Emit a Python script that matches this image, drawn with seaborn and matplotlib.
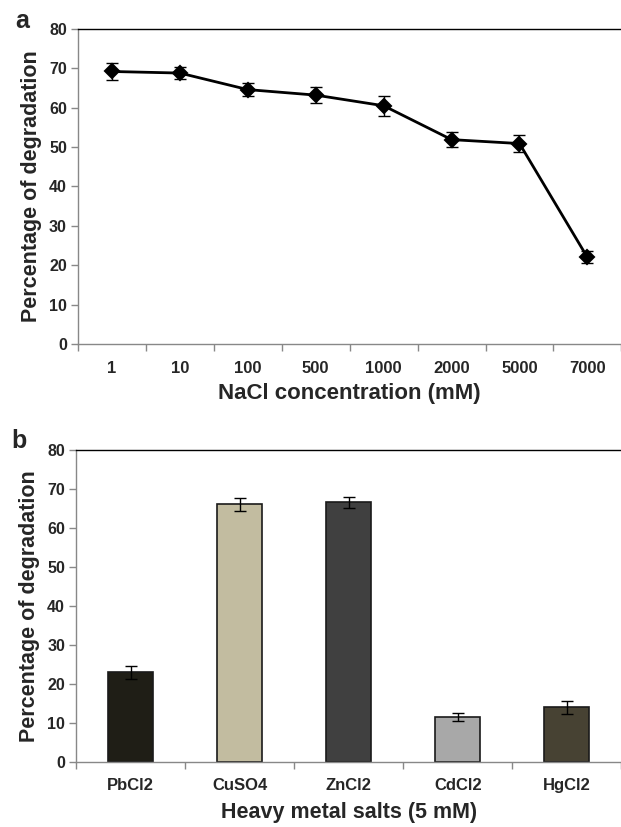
import matplotlib
matplotlib.use("Agg")
import matplotlib.pyplot as plt
import seaborn as sns
import pandas as pd
import numpy as np

sns.set_theme(style="white")
plt.rcParams['font.family'] = ['Liberation Sans', 'DejaVu Sans']

# Panel a data
nacl_labels = ["1", "10", "100", "500", "1000", "2000", "5000", "7000"]
nacl_values = [69.2, 68.8, 64.6, 63.2, 60.5, 51.9, 50.9, 22.0]
nacl_err = [2.1, 1.6, 1.7, 2.1, 2.6, 1.9, 2.2, 1.5]

# Panel b data
metal_labels = ["PbCl2", "CuSO4", "ZnCl2", "CdCl2", "HgCl2"]
metal_values = [22.9, 66.0, 66.6, 11.4, 13.9]
metal_err = [1.7, 1.7, 1.4, 1.0, 1.7]
metal_colors = ["#211f14", "#c8c09a", "#404040", "#a8a8a8", "#4a4430"]

yticks = [0, 10, 20, 30, 40, 50, 60, 70, 80]

fig = plt.figure(figsize=(6.21, 8.27), dpi=100)
axa = fig.add_axes([0.1256, 0.584, 0.875, 0.381])
axb = fig.add_axes([0.1225, 0.079, 0.878, 0.377])

def style(ax, n, labels, xlabel, xlsize, xlpad):
    ax.set_xlim(-0.5, n - 0.5)
    ax.set_ylim(0, 80)
    ax.set_yticks(yticks)
    ax.set_yticklabels([str(t) for t in yticks], fontsize=11.5, fontweight='bold')
    ax.set_xticks(np.arange(n + 1) - 0.5)
    ax.set_xticklabels([])
    ax.set_xticks(np.arange(n), minor=True)
    ax.set_xticklabels(labels, minor=True, fontsize=12, fontweight='bold')
    ax.tick_params(axis='x', which='major', length=5, width=1, color='#888888', direction='out', bottom=True)
    ax.tick_params(axis='x', which='minor', length=0, pad=12, bottom=True)
    ax.tick_params(axis='y', length=5, width=1, color='#888888', direction='out', left=True, pad=3)
    for s in ['left', 'bottom']:
        ax.spines[s].set_color('#888888')
        ax.spines[s].set_linewidth(1.0)
    ax.spines['top'].set_color('black')
    ax.spines['top'].set_linewidth(1.0)
    ax.spines['right'].set_visible(False)
    ax.set_ylabel("Percentage of degradation", fontsize=15.5, fontweight='bold', labelpad=5)
    ax.set_xlabel(xlabel, fontsize=xlsize, fontweight='bold', labelpad=xlpad)
    ax.grid(False)

# Panel a
dfa = pd.DataFrame({"conc": nacl_labels, "deg": nacl_values})
sns.pointplot(data=dfa, x="conc", y="deg", ax=axa, color="black", markers="D",
              linestyles="-", errorbar=None, markersize=7, linewidth=2)
axa.errorbar(np.arange(len(nacl_labels)), nacl_values, yerr=nacl_err, fmt='none',
             ecolor='black', elinewidth=1, capsize=4, capthick=1, zorder=5)
style(axa, len(nacl_labels), nacl_labels, "NaCl concentration (mM)", 16, 5)

# Panel b
dfb = pd.DataFrame({"salt": metal_labels, "deg": metal_values})
sns.barplot(data=dfb, x="salt", y="deg", hue="salt", palette=metal_colors, ax=axb,
            width=0.41, edgecolor="#1a1a1a", linewidth=1.2, legend=False, errorbar=None)
axb.errorbar(np.arange(len(metal_labels)), metal_values, yerr=metal_err, fmt='none',
             ecolor='black', elinewidth=1, capsize=4, capthick=1, zorder=5)
style(axb, len(metal_labels), metal_labels, "Heavy metal salts (5 mM)", 15.5, 6)

fig.text(0.024, 0.966, "a", fontsize=18, fontweight='bold', va='baseline', ha='left')
fig.text(0.019, 0.458, "b", fontsize=18, fontweight='bold', va='baseline', ha='left')

fig.savefig("out.png", dpi=100)
